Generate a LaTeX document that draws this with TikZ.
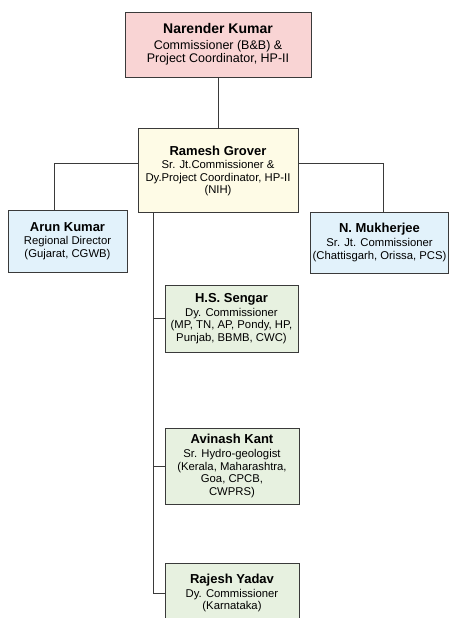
\documentclass[tikz,border=0pt]{standalone}
\usepackage{fontspec}
\setmainfont{Liberation Sans}
\usepackage{xcolor}
\definecolor{headpink}{HTML}{F9D4D4}
\definecolor{jtyellow}{HTML}{FEFBE6}
\definecolor{regblue}{HTML}{E2F2FB}
\definecolor{dygreen}{HTML}{E7F1E0}
\definecolor{edgegray}{HTML}{3A3A3A}
\usetikzlibrary{positioning,calc}

\begin{document}
\begin{tikzpicture}[
  x=1pt,y=1pt,
  every node/.style={rectangle,draw=edgegray,line width=0.9pt,align=center,inner sep=2pt,
    font=\fontsize{11.3}{12.6}\selectfont},
  head/.style={fill=headpink,minimum width=186pt,minimum height=65pt,font=\fontsize{12.5}{13.4}\selectfont},
  jt/.style={fill=jtyellow,minimum width=160pt,minimum height=84pt},
  reg/.style={fill=regblue,minimum height=62pt},
  dy/.style={fill=dygreen,minimum width=134pt},
  link/.style={draw=edgegray,line width=1pt},
]
\useasboundingbox (0,0) rectangle (449,-618);
\clip (0,0) rectangle (449,-618);

% Head
\node[head] (narender) at (218,-44.5)
  {{\fontsize{14}{15}\selectfont\bfseries Narender Kumar}\\[2pt]Commissioner (B\&B) \&\\Project Coordinator, HP-II};

% Joint commissioner
\node[jt,below=51pt of narender] (ramesh)
  {{\fontsize{13}{14}\selectfont\bfseries Ramesh Grover}\\[1pt]Sr. Jt.Commissioner \&\\Dy.Project Coordinator, HP-II\\(NIH)};

% Side branches
\node[reg,minimum width=119pt] (arun) at (67.5,-241)
  {{\fontsize{13}{14}\selectfont\bfseries Arun Kumar}\\[1pt]Regional Director\\(Gujarat, CGWB)};
\node[reg,minimum width=137pt,minimum height=61pt] (mukherjee) at (379.5,-242.5)
  {{\fontsize{13}{14}\selectfont\bfseries N. Mukherjee}\\[1pt]Sr. Jt. Commissioner\\(Chattisgarh, Orissa, PCS)};

% Deputies
\node[dy,minimum width=133pt,minimum height=67pt] (sengar) at (231.5,-318.5)
  {{\fontsize{13}{14}\selectfont\bfseries H.S. Sengar}\\[1pt]Dy. Commissioner\\(MP, TN, AP, Pondy, HP,\\Punjab, BBMB, CWC)};
\node[dy,minimum height=76pt] (avinash) at (232,-466)
  {{\fontsize{13}{14}\selectfont\bfseries Avinash Kant}\\[1pt]Sr. Hydro-geologist\\(Kerala, Maharashtra,\\Goa, CPCB,\\CWPRS)};
\node[dy,minimum height=60pt] (rajesh) at (232,-593)
  {{\fontsize{13}{14}\selectfont\bfseries Rajesh Yadav}\\[1pt]Dy. Commissioner\\(Karnataka)};

% Connectors
\coordinate (trunk) at ([xshift=-65pt]ramesh.south);
\draw[link] (narender.south) -- (ramesh.north);
\draw[link] ([yshift=7pt]ramesh.west) -| ([xshift=-13.5pt]arun.north);
\draw[link] ([yshift=7pt]ramesh.east) -| ([xshift=3.5pt]mukherjee.north);
\draw[link] (trunk) |- (rajesh.west);
\draw[link] (trunk |- sengar.west) -- (sengar.west);
\draw[link] (trunk |- avinash.west) -- (avinash.west);
\end{tikzpicture}
\end{document}
